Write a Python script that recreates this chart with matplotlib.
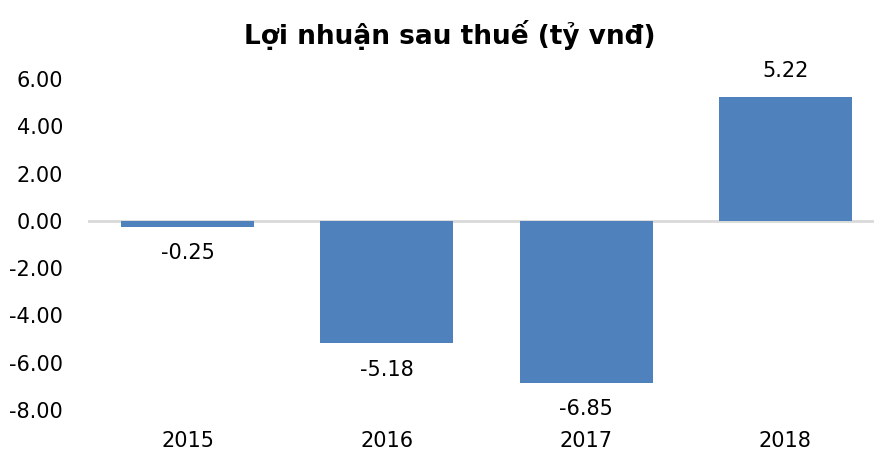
import matplotlib.pyplot as plt
import numpy as np

years = ['2015', '2016', '2017', '2018']
profit = [-0.25, -5.18, -6.85, 5.22]
yticks = [6, 4, 2, 0, -2, -4, -6, -8]

fig = plt.figure(figsize=(8.74, 4.55), dpi=100)
# plot area runs off the right edge in the original
ax = fig.add_axes([88/874, 1 - 410/455, 797/874, (410 - 79)/455])

x = np.arange(len(years))
bars = ax.bar(x, profit, width=0.667, color='#4F81BD', zorder=2)

ax.axhline(0, color='#D9D9D9', lw=2, zorder=1)
ax.set_xlim(-0.5, len(years) - 0.5)
ax.set_ylim(-8, 6)
ax.set_yticks(yticks)
ax.set_yticklabels(['%.2f' % t for t in yticks], fontsize=15)
ax.set_xticks(x)
ax.set_xticklabels(years, fontsize=15)
ax.tick_params(length=0)
ax.tick_params(axis='y', pad=18)
ax.tick_params(axis='x', pad=15)
for s in ax.spines.values():
    s.set_visible(False)

for xi, v in zip(x, profit):
    off = 12 if v > 0 else -12
    ax.annotate('%.2f' % v, (xi, v), xytext=(0, off), textcoords='offset points',
                ha='center', va='bottom' if v > 0 else 'top', fontsize=15)

fig.text(450/874, 1 - 35/455, 'Lợi nhuận sau thuế (tỷ vnđ)', ha='center', va='center',
         fontsize=19, fontweight='bold')

fig.savefig('out.png', dpi=100)
